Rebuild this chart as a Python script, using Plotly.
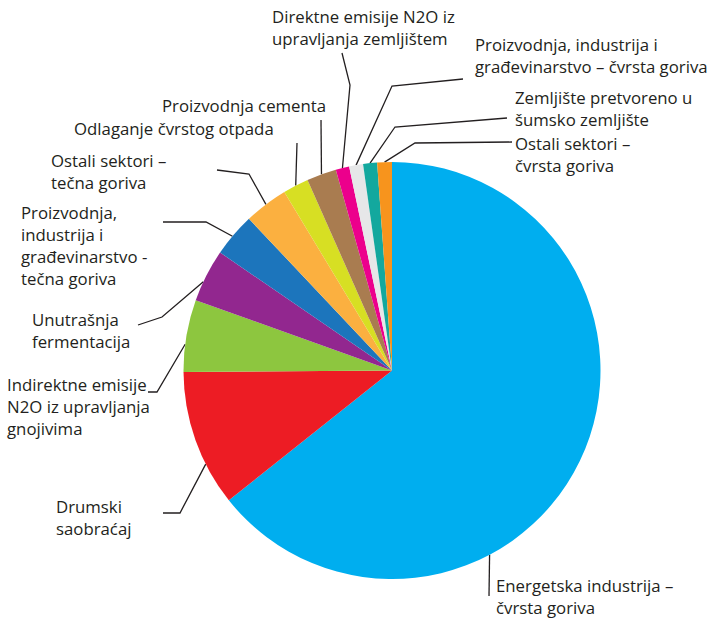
import math
import plotly.graph_objects as go

# ---------------- data ----------------
categories = [
    "Energetska industrija – čvrsta goriva",
    "Drumski saobraćaj",
    "Indirektne emisije N2O iz upravljanja gnojivima",
    "Unutrašnja fermentacija",
    "Proizvodnja, industrija i građevinarstvo - tečna goriva",
    "Ostali sektori – tečna goriva",
    "Odlaganje čvrstog otpada",
    "Proizvodnja cementa",
    "Direktne emisije N2O iz upravljanja zemljištem",
    "Proizvodnja, industrija i građevinarstvo – čvrsta goriva",
    "Zemljište pretvoreno u šumsko zemljište",
    "Ostali sektori – čvrsta goriva",
]
values = [64.4, 10.6, 5.6, 4.1, 3.4, 3.4, 2.0, 2.3, 1.05, 1.08, 1.08, 1.14]
label_lines = [
    ["Energetska industrija –", "čvrsta goriva"],
    ["Drumski", "saobraćaj"],
    ["Indirektne emisije", "N2O iz upravljanja", "gnojivima"],
    ["Unutrašnja", "fermentacija"],
    ["Proizvodnja,", "industrija i", "građevinarstvo -", "tečna goriva"],
    ["Ostali sektori –", "tečna goriva"],
    ["Odlaganje čvrstog otpada"],
    ["Proizvodnja cementa"],
    ["Direktne emisije N2O iz", "upravljanja zemljištem"],
    ["Proizvodnja, industrija i", "građevinarstvo – čvrsta goriva"],
    ["Zemljište pretvoreno u", "šumsko zemljište"],
    ["Ostali sektori –", "čvrsta goriva"],
]

# ---------------- styles / layout ----------------
colors = ["#00AEEF", "#ED1C24", "#8DC63F", "#92278F", "#1C75BC", "#FBB040",
          "#D7DF23", "#A97C50", "#EC008C", "#E6E7E8", "#13A89E", "#F7941D"]
W, H = 711, 619
CX, CY, R = 392.0, 370.5, 208.5
TXT = "#231F20"
FONT = "Open Sans"
FS = 16.8
LINE_H = 22.3
PAD = 3  # annotation inner padding compensation

# per label: fraction of slice for anchor, elbow points, text left x, first line y
label_layout = [
    dict(f=0.657, pts=[(489, 596)], tx=497, ty=585),
    dict(f=0.31, pts=[(180, 513), (163, 513)], tx=57, ty=506),
    dict(f=0.38, pts=[(157, 392), (148, 392)], tx=8, ty=384),
    dict(f=0.37, pts=[(162, 317), (138, 325)], tx=33, ty=319),
    dict(f=0.46, pts=[(206, 222), (163, 222)], tx=22, ty=212),
    dict(f=0.5, pts=[(249, 174), (217, 170)], tx=52, ty=160),
    dict(f=0.5, pts=[(297, 143)], tx=75, ty=128),
    dict(f=0.5, pts=[(321, 120)], tx=163, ty=105),
    dict(f=0.5, pts=[(350, 85), (342, 53)], tx=273, ty=16),
    dict(f=0.5, pts=[(392, 86), (463, 79)], tx=476, ty=44),
    dict(f=0.5, pts=[(395, 127), (507, 118)], tx=516, ty=97),
    dict(f=0.5, pts=[(415, 143), (512, 142)], tx=516, ty=143),
]

fig = go.Figure()
fig.add_trace(go.Pie(
    labels=categories, values=values, sort=False, direction="clockwise",
    rotation=0, marker=dict(colors=colors, line=dict(width=0)),
    textinfo="none", hoverinfo="label+percent", showlegend=False,
    domain=dict(x=[(CX - R) / W, (CX + R) / W], y=[1 - (CY + R) / H, 1 - (CY - R) / H]),
))

total = sum(values)
cum = 0.0
shapes, annotations = [], []
for v, lines, lay in zip(values, label_lines, label_layout):
    a0 = 360 * cum / total
    a1 = 360 * (cum + v) / total
    cum += v
    th = math.radians(a0 + lay["f"] * (a1 - a0))
    ax = CX + R * math.sin(th)
    ay = CY - R * math.cos(th)
    pts = [(ax, ay)] + lay["pts"]
    path = "M " + " L ".join(f"{x:.2f},{y:.2f}" for x, y in pts)
    shapes.append(dict(type="path", path=path, xref="x", yref="y",
                       line=dict(color=TXT, width=1.3), layer="below"))
    for i, t in enumerate(lines):
        annotations.append(dict(x=lay["tx"] - PAD, y=lay["ty"] + i * LINE_H, xref="x", yref="y",
                                text=t, showarrow=False, xanchor="left", yanchor="middle",
                                align="left", font=dict(family=FONT, size=FS, color=TXT)))

fig.update_layout(
    width=W, height=H, margin=dict(l=0, r=0, t=0, b=0),
    paper_bgcolor="white", plot_bgcolor="rgba(0,0,0,0)",
    xaxis=dict(range=[0, W], visible=False, fixedrange=True),
    yaxis=dict(range=[H, 0], visible=False, fixedrange=True),
    shapes=shapes, annotations=annotations,
)
fig.write_html("out.html")
